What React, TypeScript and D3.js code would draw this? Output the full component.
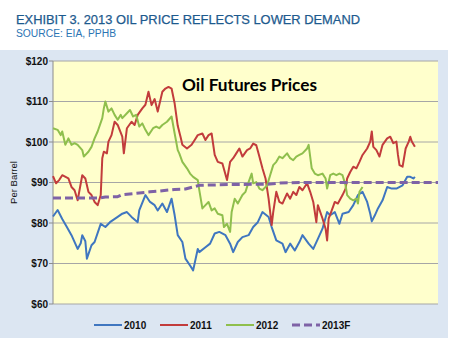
import React from "react";
import * as d3 from "d3";

const yTicks = [60, 70, 80, 90, 100, 110, 120];
const seriesNames = ["2010", "2011", "2012", "2013F"];
const seriesColors = ["#3f76c0", "#c23c3c", "#8fbf4d", "#7e62a6"];

// [trading day, $ per barrel]
const s2010: [number, number][] = [[0,81.6],[3,83.2],[6,81],[9,79],[12,77],[16,73.6],[18,75],[19,77],[21,75.5],[22,71.2],[25,74.5],[27,75.3],[31,79.8],[34,79],[37,80.2],[42,81.5],[45,82.3],[48,82.7],[51,81.5],[55,80.2],[56,83.1],[60,86.9],[63,85.2],[66,84.4],[68,83.1],[71,84.8],[74,82.7],[77,86],[79,81.9],[81,77],[84,75.3],[86,71.2],[89,69.5],[91,68.3],[94,73.6],[95,72.8],[99,74],[102,74.9],[105,77.4],[108,77.8],[112,77],[115,74.9],[117,72.8],[120,75.3],[123,76.5],[127,77],[130,79],[133,80.2],[136,82.7],[140,81.5],[142,79],[145,75.7],[149,74.9],[151,72.8],[154,74.9],[157,73.2],[160,75.3],[162,77],[166,74.9],[169,73.6],[172,76.1],[175,78.6],[178,82.7],[180,81.9],[183,82.7],[186,79.8],[188,82.3],[192,82.7],[195,84.4],[198,86.9],[201,87.7],[204,85.2],[206,82.3],[207,80.4],[209,81.9],[211,83.6],[214,85.6],[217,88.9],[220,88.5],[223,88.5],[227,89.3],[230,91.4],[232,91.4],[234,91],[235,91.4]];

const s2011: [number, number][] = [[0,91.6],[2,89.8],[4,90.6],[6,91.8],[10,91],[12,88.9],[14,88.1],[16,85.6],[19,91.8],[21,91],[23,87.7],[25,86.9],[27,85.2],[29,84.4],[31,86.9],[32,96],[33,97.6],[35,97.2],[36,100.1],[38,101.7],[40,105],[42,104.2],[45,101.3],[46,97.2],[48,103.4],[51,105],[53,104.2],[55,106.7],[58,108.3],[60,109.2],[62,112.4],[64,109.1],[66,110.6],[68,107.5],[71,112.4],[73,113.2],[75,113.6],[77,113.2],[79,109.5],[81,104],[83,101],[84,99.3],[87,98.4],[90,99.3],[92,100.5],[94,101.7],[97,102.1],[99,100.5],[101,101.7],[103,102.1],[105,96.8],[107,95.1],[110,94.7],[113,90.6],[115,95.1],[117,96],[119,97.2],[121,98.4],[123,96.4],[126,98],[128,98.4],[130,99.6],[132,99.2],[134,96.4],[136,93.5],[138,91],[140,86],[142,79.5],[143,82.7],[145,87.7],[147,85.2],[149,84.8],[152,87.3],[154,86],[156,87.7],[158,86.9],[160,88.9],[162,88.1],[165,89.8],[167,87.7],[169,85.2],[171,80.2],[172,84.4],[175,81.1],[177,78.6],[178,75.7],[179,81.1],[181,83.1],[183,85.2],[185,84.8],[188,86.9],[190,88.5],[191,91],[193,92.6],[195,93.9],[197,93.5],[199,95.1],[201,96.8],[204,98.4],[206,100.1],[207,102.6],[208,98.8],[210,98],[212,96.4],[214,99.3],[217,100.9],[219,101.3],[221,99.7],[223,100.1],[224,96.8],[225,94.3],[227,93.9],[229,98.4],[231,100.1],[232,101.3],[233,100.1],[235,98.8]];

const s2012: [number, number][] = [[0,103.4],[3,103],[5,101.7],[6,102.6],[8,99.3],[10,100.9],[12,99.3],[14,99.7],[16,99.3],[19,98],[20,96.4],[23,97.6],[25,98.8],[27,100.9],[29,102.6],[32,105.9],[33,108.3],[34,110],[36,107.5],[38,108.3],[40,106.7],[42,105.5],[44,106.7],[45,105.9],[48,107.1],[50,107.9],[52,106.3],[54,106.7],[56,103.8],[58,104.6],[60,103],[62,101.7],[65,103.4],[67,103.8],[69,103.4],[71,104.2],[74,105],[77,106.3],[79,102.1],[81,98],[82,97.2],[84,95.1],[87,93.5],[89,92.2],[91,91.4],[94,90.6],[95,88.1],[97,83.6],[99,84.4],[101,85.2],[103,83.1],[105,83.6],[107,82.3],[110,81.9],[111,79],[113,79.8],[115,77.8],[116,82.7],[118,86],[120,84.8],[123,86.9],[125,87.7],[127,90.1],[129,92.2],[130,89.8],[132,90.1],[134,88.5],[136,88.1],[139,89.3],[141,91.8],[143,94.3],[145,95.1],[147,96.4],[149,96],[152,97.2],[154,96],[156,95.5],[158,96.4],[160,96.8],[162,97.2],[165,98.4],[166,99.3],[168,93.5],[170,92.2],[172,91.8],[175,92.2],[177,91],[178,88.5],[180,91.8],[182,92.2],[184,91.8],[186,92.2],[188,91.8],[190,89.3],[191,86.9],[193,86],[195,85.6],[197,86],[198,84.8],[199,87.7],[201,88.9]];

const s2013F: [number, number][] = [[0,86.2],[31,86.2],[34,86.4],[42,86.5],[45,87],[56,87.4],[63,87.7],[69,87.9],[79,88.3],[86,88.4],[95,89.3],[115,89.5],[141,89.6],[147,89.9],[160,90],[250,90]];

const allSeries = [s2010, s2011, s2012, s2013F];

export default function App() {
  const left = 53, right = 438, top = 61, bottom = 304;
  const x = d3.scaleLinear().domain([0, 250]).range([left, right]);
  const y = d3.scaleLinear().domain([60, 120]).range([bottom, top]);
  const line = d3.line<[number, number]>().x((d) => x(d[0])).y((d) => y(d[1]));
  const font = "'Liberation Sans', Arial, sans-serif";
  const legendX = [94, 160, 226, 292];

  return (
    <svg width={450} height={352} style={{ position: "absolute", left: 0, top: 0, background: "#fff" }}>
      <text x={16} y={24} fontFamily={font} fontSize={13} fill="#1d5a8e" stroke="#1d5a8e" strokeWidth={0.25} textLength={344} lengthAdjust="spacingAndGlyphs">
        EXHIBIT 3. 2013 OIL PRICE REFLECTS LOWER DEMAND
      </text>
      <text x={16} y={37} fontFamily={font} fontSize={10} fill="#2b74b3" textLength={100} lengthAdjust="spacingAndGlyphs">
        SOURCE: EIA, PPHB
      </text>
      <rect x={0} y={50} width={448} height={288} fill="#dce6f2" />
      <rect x={left} y={top} width={right - left} height={bottom - top} fill="#ffffcc" />
      {yTicks.map((t) => (
        <g key={t}>
          <line x1={left} x2={right} y1={y(t)} y2={y(t)} stroke="#a6a6a6" strokeWidth={1} />
          <line x1={left - 4} x2={left} y1={y(t)} y2={y(t)} stroke="#8c8c8c" strokeWidth={1} />
          <text x={48} y={y(t)} dy="0.35em" textAnchor="end" fontFamily={font} fontWeight="bold" fontSize={10} fill="#111">
            ${t}
          </text>
        </g>
      ))}
      <line x1={left} x2={left} y1={top} y2={bottom} stroke="#8c8c8c" strokeWidth={1} />
      <text transform={`translate(17,${(top + bottom) / 2}) rotate(-90)`} textAnchor="middle" fontFamily={font} fontSize={9.5} fill="#111">
        Per Barrel
      </text>
      <text x={182} y={91} fontFamily="Lato, 'Liberation Sans', sans-serif" fontWeight="bold" fontSize={17} fill="#000" textLength={135} lengthAdjust="spacingAndGlyphs">
        Oil Futures Prices
      </text>
      {allSeries.map((s, i) => (
        <path
          key={seriesNames[i]}
          d={line(s) || ""}
          fill="none"
          stroke={seriesColors[i]}
          strokeWidth={i === 3 ? 3 : 2}
          strokeDasharray={i === 3 ? "8,4" : undefined}
          strokeLinejoin="round"
        />
      ))}
      {seriesNames.map((n, i) => (
        <g key={n}>
          <line x1={legendX[i]} x2={legendX[i] + 28} y1={325} y2={325} stroke={seriesColors[i]} strokeWidth={i === 3 ? 3 : 2} strokeDasharray={i === 3 ? "8,4" : undefined} />
          <text x={legendX[i] + 30} y={325} dy="0.35em" fontFamily={font} fontWeight="bold" fontSize={10} fill="#111">
            {n}
          </text>
        </g>
      ))}
    </svg>
  );
}
